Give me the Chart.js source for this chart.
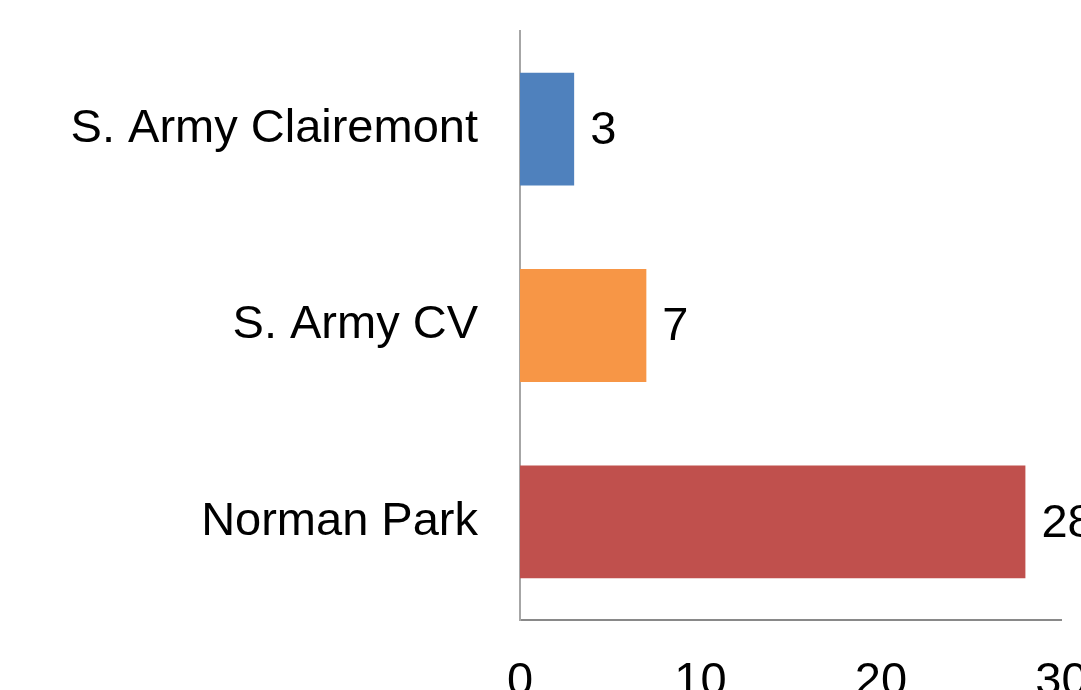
<!DOCTYPE html>
<html><head><meta charset="utf-8">
<script src="https://cdn.jsdelivr.net/npm/chart.js@4.4.1/dist/chart.umd.min.js"></script>
<style>
html,body{margin:0;padding:0;background:#fff;overflow:hidden;}
#wrap{position:relative;width:1140px;height:740px;}
</style></head>
<body>
<div id="wrap"><canvas id="c" width="1140" height="740"></canvas></div>
<script>
const categories = ["S. Army Clairemont", "S. Army CV", "Norman Park"];
const values = [3, 7, 28];
const barColors = ["#4F81BD", "#F79646", "#C0504D"];
const xTicks = [0, 10, 20, 30];

const FONT = '"Liberation Sans", Arial, sans-serif';
const FS = 47;
const W = 1140, H = 740;
const LEFT = 520, RIGHT = 1061.5, TOP = 31, BOTTOM = 620;

const dataLabels = {
  id: 'dataLabels',
  afterDatasetsDraw(chart) {
    const ctx = chart.ctx;
    const meta = chart.getDatasetMeta(0);
    ctx.save();
    ctx.font = FS + 'px ' + FONT;
    ctx.fillStyle = '#000';
    ctx.textAlign = 'left';
    ctx.textBaseline = 'middle';
    meta.data.forEach((bar, i) => {
      ctx.fillText(String(values[i]), bar.x + 16, bar.y + 2);
    });
    ctx.restore();
  }
};

new Chart(document.getElementById('c'), {
  type: 'bar',
  data: {
    labels: categories,
    datasets: [{
      data: values,
      backgroundColor: barColors,
      borderWidth: 0,
      categoryPercentage: 1,
      barPercentage: 0.575
    }]
  },
  options: {
    indexAxis: 'y',
    responsive: false,
    animation: false,
    layout: { padding: { top: TOP, right: W - RIGHT, left: 0, bottom: 0 } },
    plugins: { legend: { display: false }, tooltip: { enabled: false } },
    scales: {
      x: {
        min: 0, max: 30,
        afterBuildTicks(s) { s.ticks = xTicks.map(v => ({ value: v })); },
        grid: { display: false, drawTicks: false },
        border: { display: true, color: '#898989', width: 2 },
        ticks: { color: '#000', padding: 34, font: { family: FONT, size: FS } },
        afterFit(s) { s.height = H - BOTTOM; s.paddingLeft = 0; s.paddingRight = 0; }
      },
      y: {
        grid: { display: false, drawTicks: false },
        border: { display: true, color: '#a6a6a6', width: 2 },
        ticks: { color: '#000', padding: 42, font: { family: FONT, size: FS } },
        afterFit(s) { s.width = LEFT; s.paddingTop = 0; s.paddingBottom = 0; }
      }
    }
  },
  plugins: [dataLabels]
});
</script>
</body></html>
